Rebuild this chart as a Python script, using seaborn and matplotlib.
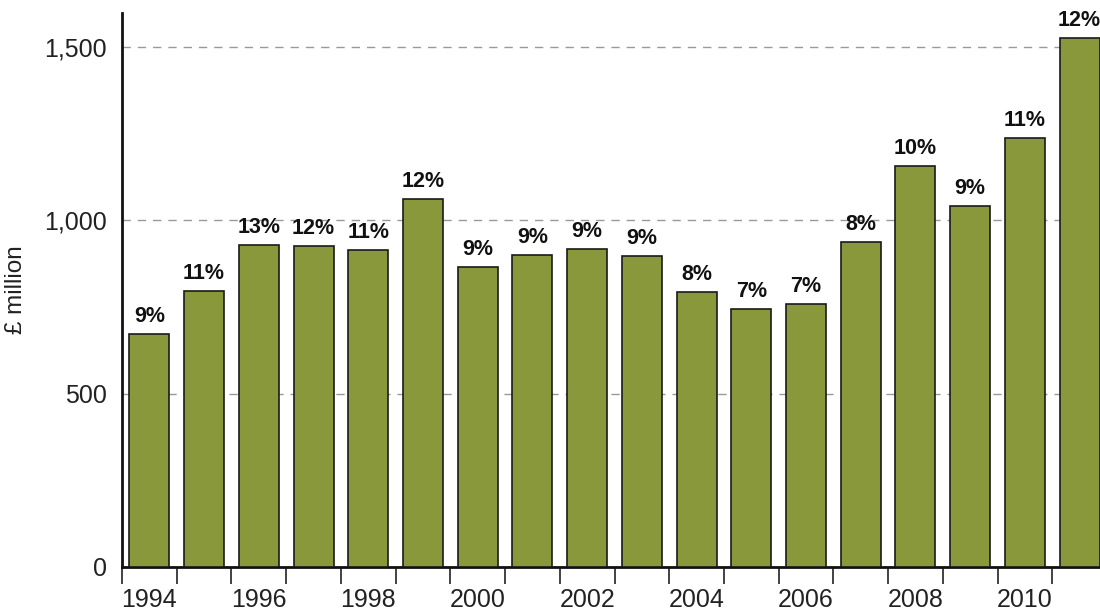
import matplotlib
matplotlib.use("Agg")
import matplotlib.pyplot as plt
import seaborn as sns
import pandas as pd
import numpy as np
from matplotlib.ticker import FuncFormatter, FixedLocator

years = [1994, 1995, 1996, 1997, 1998, 1999, 2000, 2001, 2002, 2003,
         2004, 2005, 2006, 2007, 2008, 2009, 2010, 2011]
values = [672, 796, 929, 926, 915, 1062, 866, 900, 917, 897,
          793, 744, 759, 938, 1157, 1042, 1238, 1526]
pct_labels = ["9%", "11%", "13%", "12%", "11%", "12%", "9%", "9%", "9%", "9%",
              "8%", "7%", "7%", "8%", "10%", "9%", "11%", "12%"]
y_ticks = [0, 500, 1000, 1500]
y_label = "£ million"

sns.set_theme(style="white")
plt.rcParams['font.family'] = ['Liberation Sans', 'DejaVu Sans']

df = pd.DataFrame({"year": [str(y) for y in years], "value": values})

fig = plt.figure(figsize=(11, 6.12), dpi=100)
ax = fig.add_axes([122/1100, 1 - 567/612, (1107 - 122)/1100, (567 - 13)/612])

sns.barplot(data=df, x="year", y="value", ax=ax, color="#89983b",
            saturation=1, width=0.73, edgecolor="#1a1a1a", linewidth=1.2, zorder=3)

ax.set_xlim(-0.5, len(years) - 0.5)
ax.set_ylim(0, 1598)

for i, (v, lab) in enumerate(zip(values, pct_labels)):
    ax.annotate(lab, (i, v), xytext=(0, 5), textcoords="offset points",
                ha="center", va="bottom", fontsize=15.5,
                fontweight="bold", color="#111111", zorder=4)

ax.set_yticks(y_ticks)
ax.yaxis.set_major_formatter(FuncFormatter(lambda v, p: f"{int(v):,}"))
ax.tick_params(axis="y", length=0, labelsize=18, labelcolor="#222222", pad=11)
for yt in y_ticks[1:]:
    ax.axhline(yt, color="#999999", linestyle=(0, (6, 5)), linewidth=1.0, zorder=1)

# x ticks: marks at category boundaries, labels at every other bar center
ax.xaxis.set_major_locator(FixedLocator(np.arange(-0.5, len(years) - 0.5, 1.0)))
ax.xaxis.set_major_formatter(FuncFormatter(lambda v, p: ""))
ax.xaxis.set_minor_locator(FixedLocator(np.arange(0, len(years), 2)))
ax.xaxis.set_minor_formatter(FuncFormatter(lambda v, p: str(years[int(round(v))])))
ax.tick_params(axis="x", which="major", length=12, width=1.2, color="#222222",
               direction="out", bottom=True)
ax.tick_params(axis="x", which="minor", length=0, labelsize=18,
               labelcolor="#222222", pad=15, bottom=True)

ax.set_xlabel("")
ax.set_ylabel(y_label, fontsize=17.5, color="#222222", labelpad=12)

for s in ["top", "right"]:
    ax.spines[s].set_visible(False)
for s in ["left", "bottom"]:
    ax.spines[s].set_visible(True)
    ax.spines[s].set_color("#111111")
    ax.spines[s].set_linewidth(2)

fig.savefig("out.png", dpi=100)
